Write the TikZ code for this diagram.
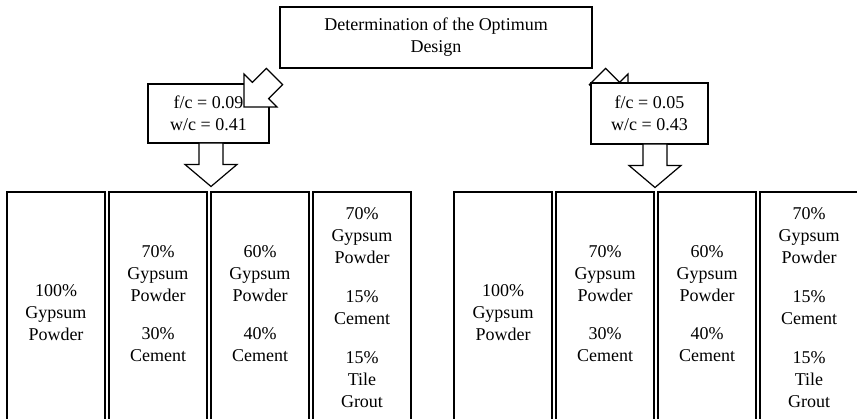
\documentclass[tikz,border=0pt]{standalone}
\usepackage{fontspec}
\setmainfont{Liberation Serif}
\usetikzlibrary{positioning}
\usetikzlibrary{calc}

\begin{document}
\begin{tikzpicture}[x=1pt, y=-1pt, line width=1.2pt]
      \tikzstyle{box} = [draw, fill=white, inner sep=0pt, outer sep=0pt, align=center, font=\fontsize{18}{22}\selectfont]
      \tikzstyle{ratio} = [box, minimum width=120pt, minimum height=60pt]
      \tikzstyle{mix} = [box, text width=94pt, minimum width=98pt, minimum height=232pt]
      \tikzstyle{blockarrow} = [draw, fill=white, line join=miter]

      \useasboundingbox (0,0) rectangle (857,419);
      \clip (0,0) rectangle (857,419);

      \node (design) [box, minimum width=312pt, minimum height=61pt] at (436,37.5) {Determination of the Optimum\\Design};

      % the box on the right hides the tip of its arrow
      \draw [blockarrow] ($(design.south east)+(36,39)$) -- ++(-33,0) -- ++(8.4,-8.4) -- ++(-14,-14) -- ++(16.2,-16.2) -- ++(14,14) -- ++(8.4,-8.4) -- cycle;

      \node (rightRatio) [ratio, minimum width=117pt, minimum height=61pt] at (649.5,113.5) {f/c = 0.05\\w/c = 0.43};
      \node (leftRatio) [ratio, minimum width=121pt, minimum height=59pt] at (208.5,113.5) {f/c = 0.09\\w/c = 0.41};

      \draw [blockarrow] ($(design.south west)+(-36,39)$) -- ++(33,0) -- ++(-8.4,-8.4) -- ++(14,-14) -- ++(-16.2,-16.2) -- ++(-14,14) -- ++(-8.4,-8.4) -- cycle;

      \draw [blockarrow] ($(leftRatio.south)+(-9.5,0)$) -- ++(24,0) -- ++(0,21.5) -- ++(14,0) -- ++(-26,22) -- ++(-26,-22) -- ++(14,0) -- cycle;
      \draw [blockarrow] ($(rightRatio.south)+(-6.5,0)$) -- ++(24,0) -- ++(0,21.5) -- ++(14,0) -- ++(-26,22) -- ++(-26,-22) -- ++(14,0) -- cycle;

      \node (leftGypsum) [mix, anchor=north west, text height=21pt] at (7,192) {100\%\\Gypsum\\Powder};
      \node (leftCement) [mix, text depth=112pt, right=4pt of leftGypsum] {70\%\\Gypsum\\Powder\\[16pt]30\%\\Cement};
      \node (leftMore) [mix, text depth=112pt, right=4pt of leftCement] {60\%\\Gypsum\\Powder\\[16pt]40\%\\Cement};
      \node (leftGrout) [mix, right=4pt of leftMore] {70\%\\Gypsum\\Powder\\[17pt]15\%\\Cement\\[17pt]15\%\\Tile\\Grout};

      \node (rightGypsum) [mix, anchor=north west, text height=21pt] at (454,192) {100\%\\Gypsum\\Powder};
      \node (rightCement) [mix, text depth=112pt, right=4pt of rightGypsum] {70\%\\Gypsum\\Powder\\[16pt]30\%\\Cement};
      \node (rightMore) [mix, text depth=112pt, right=4pt of rightCement] {60\%\\Gypsum\\Powder\\[16pt]40\%\\Cement};
      \node (rightGrout) [mix, right=4pt of rightMore] {70\%\\Gypsum\\Powder\\[17pt]15\%\\Cement\\[17pt]15\%\\Tile\\Grout};
    \end{tikzpicture}
\end{document}
